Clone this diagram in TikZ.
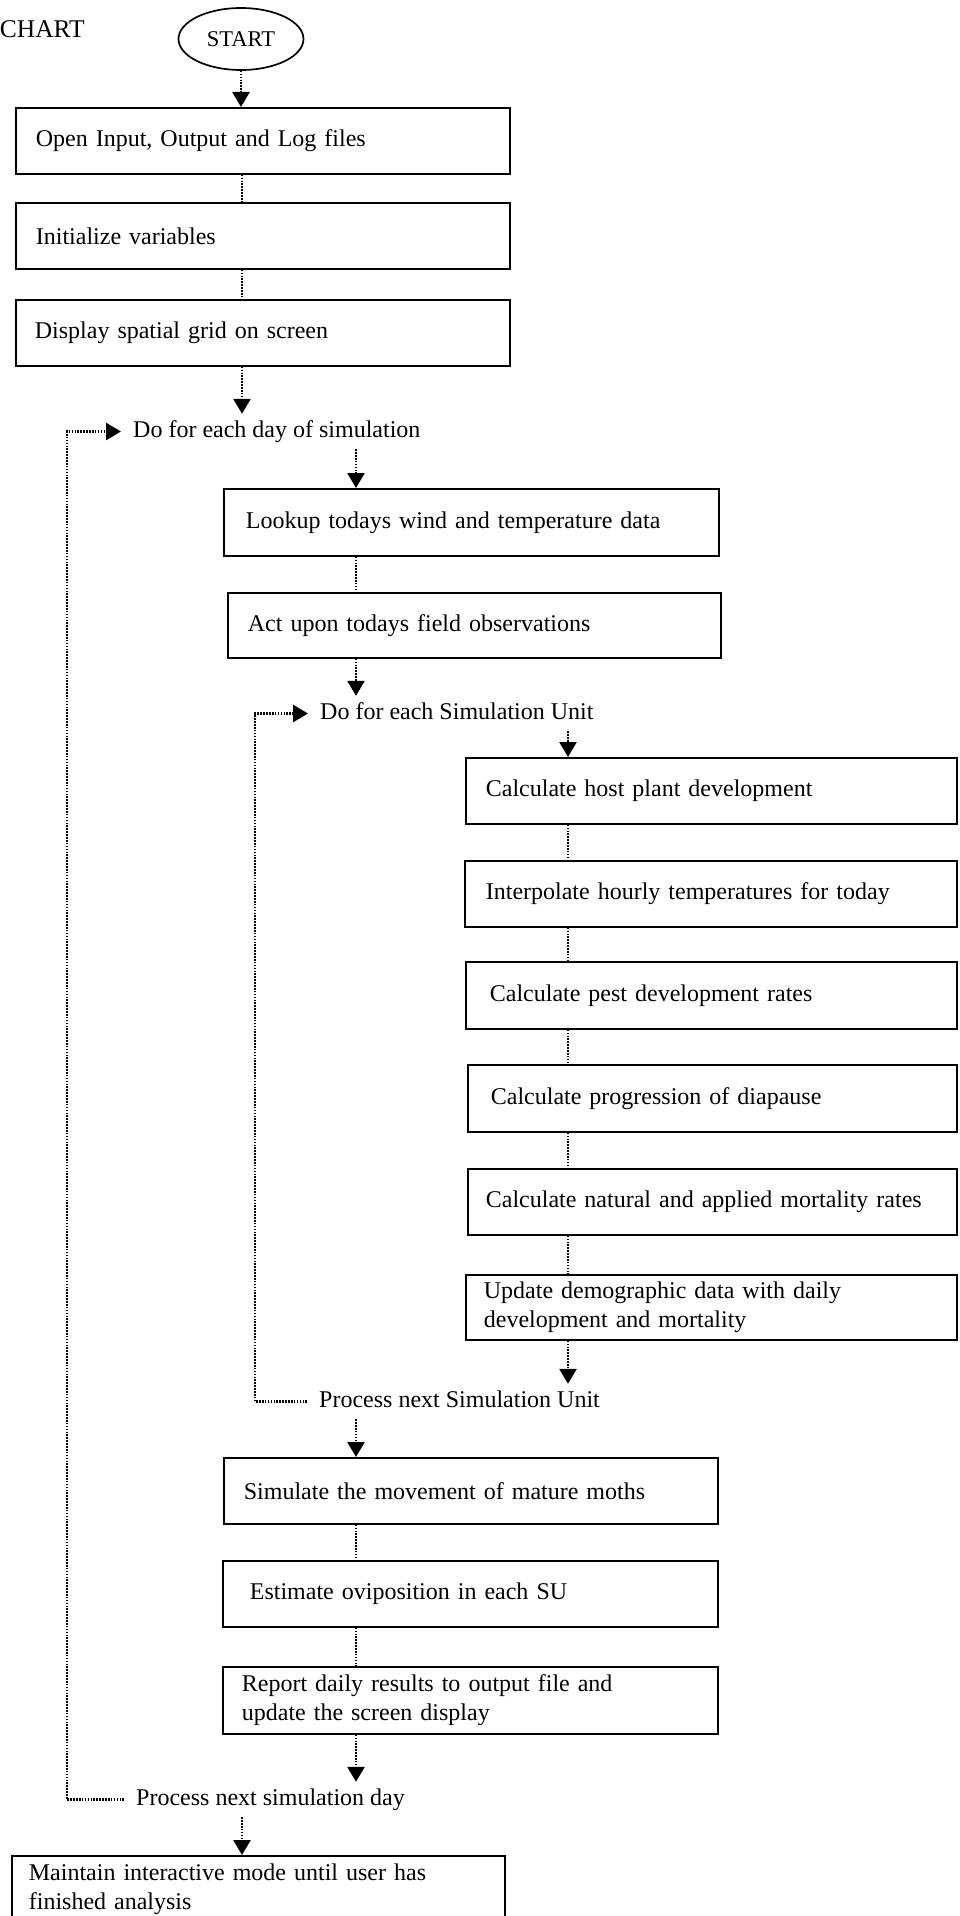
\documentclass[tikz,border=0pt]{standalone}
\usepackage{fontspec}
\setmainfont{Liberation Serif}
\usetikzlibrary{arrows.meta,shapes.geometric}
\newcommand\bxfont{\fontsize{24}{29}\selectfont}
\tikzset{
  stepbox/.style={draw, line width=1.7pt, rectangle, anchor=north west, inner ysep=0pt, align=left, font=\bxfont},
  lbl/.style={anchor=base west, inner xsep=12pt, inner ysep=6pt, text height=17pt, text depth=6pt, font=\bxfont},
  dotline/.style={line width=2.6pt, dash pattern=on 1.6pt off 1.3pt},
  arr/.style={-{Triangle[length=15pt,width=17pt]}},
}
\begin{document}
\begin{tikzpicture}[x=1pt,y=-1pt]
\useasboundingbox (0,0) rectangle (960,1916);
\clip (0,0) rectangle (960,1916);
\coordinate (xA) at (242,0);
\coordinate (xB) at (356,0);
\coordinate (xC) at (568,0);
\coordinate (xL) at (67,0);
\coordinate (xM) at (255,0);

\node[anchor=base east, inner sep=0pt, font=\fontsize{25.5}{30}\selectfont] (title) at (85,38) {CHART};
\node[draw, line width=1.7pt, ellipse, minimum width=125pt, minimum height=62pt, inner sep=0pt, font=\fontsize{22.5}{26}\selectfont] (start) at (241,39) {START};

\node[stepbox, text width=454pt, inner xsep=20pt, minimum height=66pt] (b1) at (15,107) {Open Input, Output and Log files};
\node[stepbox, text width=454pt, inner xsep=20pt, minimum height=66pt] (b2) at (15,202) {Initialize variables};
\node[stepbox, text width=456pt, inner xsep=19pt, minimum height=66pt] (b3) at (15,299) {Display spatial grid on screen};

\node[lbl] (doday) at (121,437) {Do for each day of simulation};

\node[stepbox, text width=451pt, inner xsep=22pt, minimum height=67pt] (lookup) at (223,488) {Lookup todays wind and temperature data};
\node[stepbox, text width=453pt, inner xsep=20pt, minimum height=65pt] (act) at (227,592) {Act upon todays field observations};

\node[lbl] (dosu) at (308,719) {Do for each Simulation Unit};

\node[stepbox, text width=451pt, inner xsep=20pt, minimum height=66pt] (host) at (465,757) {Calculate host plant development};
\node[stepbox, text width=450pt, inner xsep=21pt, minimum height=66pt] (interp) at (464,860) {Interpolate hourly temperatures for today};
\node[stepbox, text width=443pt, inner xsep=24pt, minimum height=67pt] (pest) at (465,961) {Calculate pest development rates};
\node[stepbox, text width=443pt, inner xsep=23pt, minimum height=67pt] (dia) at (467,1064) {Calculate progression of diapause};
\node[stepbox, text width=453pt, inner xsep=18pt, minimum height=66pt] (mort) at (467,1168) {Calculate natural and applied mortality rates};
\node[stepbox, text width=455pt, inner xsep=18pt, minimum height=65pt] (upd) at (465,1274) {Update demographic data with daily\\development and mortality};

\node[lbl] (pnsu) at (307,1407) {Process next Simulation Unit};

\node[stepbox, text width=454pt, inner xsep=20pt, minimum height=66pt] (sim) at (223,1457) {Simulate the movement of mature moths};
\node[stepbox, text width=441pt, inner xsep=27pt, minimum height=66pt] (est) at (222,1560) {Estimate oviposition in each SU};
\node[stepbox, text width=457pt, inner xsep=19pt, minimum height=67pt] (rep) at (222,1666) {Report daily results to output file and\\update the screen display};

\node[lbl] (pnday) at (124,1805) {Process next simulation day};

\node[stepbox, text width=459pt, inner xsep=17pt, minimum height=66pt] (maint) at (11,1855) {Maintain interactive mode until user has\\finished analysis};

% connectors
\draw[dotline,arr] (start.south) -- (start.south |- b1.north);
\draw[dotline] (xA |- b1.south) -- (xA |- b2.north);
\draw[dotline] (xA |- b2.south) -- (xA |- b3.north);
\draw[dotline,arr] (xA |- b3.south) -- (xA |- doday.north);
\draw[dotline,arr] (xB |- doday.south) -- (xB |- lookup.north);
\draw[dotline] (xB |- lookup.south) -- (xB |- act.north);
\draw[dotline,arr] (xB |- act.south) -- (xB |- dosu.north);
\draw[dotline,arr] (xC |- dosu.south) -- (xC |- host.north);
\draw[dotline] (xC |- host.south) -- (xC |- interp.north);
\draw[dotline] (xC |- interp.south) -- (xC |- pest.north);
\draw[dotline] (xC |- pest.south) -- (xC |- dia.north);
\draw[dotline] (xC |- dia.south) -- (xC |- mort.north);
\draw[dotline] (xC |- mort.south) -- (xC |- upd.north);
\draw[dotline,arr] (xC |- upd.south) -- (xC |- pnsu.north);
\draw[dotline,arr] (xB |- pnsu.south) -- (xB |- sim.north);
\draw[dotline] (xB |- sim.south) -- (xB |- est.north);
\draw[dotline] (xB |- est.south) -- (xB |- rep.north);
\draw[dotline,arr] (xB |- rep.south) -- (xB |- pnday.north);
\draw[dotline,arr] (xA |- pnday.south) -- (xA |- maint.north);

% loops
\draw[dotline,arr] (pnday.west) -- (xL |- pnday.west) -- (xL |- doday.west) -- (doday.west);
\draw[dotline,arr] (pnsu.west) -- (xM |- pnsu.west) -- (xM |- dosu.west) -- (dosu.west);
\end{tikzpicture}
\end{document}
